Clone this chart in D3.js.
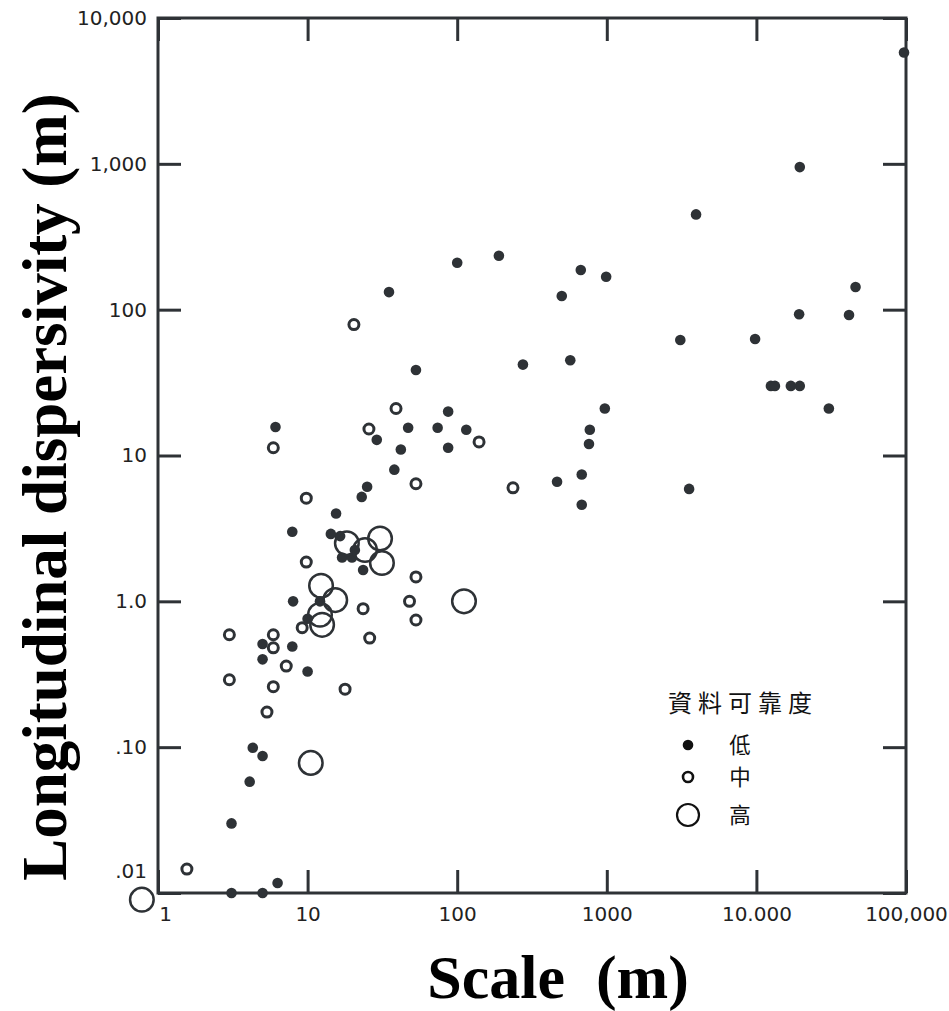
<!DOCTYPE html>
<html>
<head>
<meta charset="utf-8">
<script src="https://cdn.jsdelivr.net/npm/d3@7.9.0/dist/d3.min.js"></script>
<style>
  html, body { margin: 0; padding: 0; background: #fff; }
  svg { display: block; }
</style>
</head>
<body>
<div id="chart"></div>
<script>
// Data: [scale (m), longitudinal dispersivity (m)]
const lowReliability = [
  [97000, 5800], [19500, 950], [3950, 450], [990, 168], [46000, 143],
  [19300, 93], [41600, 92], [3100, 62], [9800, 63], [12500, 30],
  [13300, 30], [17000, 30], [19500, 30], [30500, 21], [970, 21],
  [3550, 5.9], [100, 210], [190, 234], [35, 132], [670, 187],
  [500, 124], [53, 38.6], [275, 42], [570, 45], [465, 6.6],
  [680, 7.4], [680, 4.6], [770, 15], [760, 12], [87, 20],
  [47, 15.5], [74, 15.5], [115, 15], [29, 12.8], [42, 11],
  [87, 11.3], [38, 8], [6.1, 15.7], [25, 6.1], [23, 5.2],
  [15.5, 4.0], [7.9, 3.0], [14.3, 2.9], [16.5, 2.8], [17, 2.0],
  [19.8, 2.0], [20.7, 2.25], [23.5, 1.64], [8, 1.0], [12.1, 1.0],
  [10, 0.76], [5.0, 0.51], [7.9, 0.49], [5.0, 0.40], [10, 0.33],
  [4.3, 0.099], [5.0, 0.087], [4.1, 0.058], [3.1, 0.030], [6.3, 0.0117],
  [3.1, 0.01], [5.0, 0.01]
];

const mediumReliability = [
  [20.4, 79], [39, 21], [25.7, 15.2], [140, 12.4], [5.9, 11.3],
  [53, 6.4], [236, 6.0], [9.8, 5.1], [9.8, 1.86], [53, 1.47],
  [48, 1.0], [23.5, 0.89], [53, 0.745], [9.2, 0.66], [26, 0.56],
  [3.0, 0.59], [5.9, 0.59], [5.9, 0.48], [7.2, 0.36], [3.0, 0.29],
  [5.9, 0.26], [17.8, 0.25], [5.35, 0.174], [1.56, 0.0146]
];

const highReliability = [
  [18.3, 2.5], [24.2, 2.25], [30.5, 2.7], [31.4, 1.83], [12.3, 1.28],
  [15.3, 1.02], [12.1, 0.81], [12.5, 0.69], [111, 1.0], [10.5, 0.078],
  [0.78, 0.009]
];

const xTicks = [1, 10, 100, 1000, 10000, 100000];
const xTickLabels = ["1", "10", "100", "1000", "10.000", "100,000"];
const yTicks = [0.01, 0.1, 1, 10, 100, 1000, 10000];
const yTickLabels = [".01", ".10", "1.0", "10", "100", "1,000", "10,000"];

const legendTitle = "資料可靠度";
const legendLabels = ["低", "中", "高"];

const xTitle = "Scale\u00a0 (m)";
const yTitle = "Longitudinal dispersivity (m)";

// Layout
const width = 949, height = 1011;
const plot = { left: 158, right: 906, top: 18, bottom: 893 };
const ink = "#2e3236";
const tickLen = 23;

const svg = d3.select("#chart").append("svg")
  .attr("width", width)
  .attr("height", height);

const x = d3.scaleLog().domain([1, 100000]).range([plot.left, plot.right]);
const y = d3.scaleLog().domain([0.01, 10000]).range([plot.bottom, plot.top]);

const xFmt = (d) => xTickLabels[xTicks.indexOf(d)];
const yFmt = (d) => yTickLabels[yTicks.indexOf(d)];

// Axes with inward ticks on all four sides
const gx = svg.append("g")
  .attr("transform", `translate(0,${plot.bottom})`)
  .call(d3.axisBottom(x).tickValues(xTicks).tickFormat(xFmt)
    .tickSizeInner(-tickLen).tickSizeOuter(0).tickPadding(14));

const gy = svg.append("g")
  .attr("transform", `translate(${plot.left},0)`)
  .call(d3.axisLeft(y).tickValues(yTicks).tickFormat(yFmt)
    .tickSizeInner(-tickLen).tickSizeOuter(0).tickPadding(11));

svg.append("g")
  .attr("transform", `translate(0,${plot.top})`)
  .call(d3.axisTop(x).tickValues(xTicks).tickFormat("")
    .tickSizeInner(-tickLen).tickSizeOuter(0));

svg.append("g")
  .attr("transform", `translate(${plot.right},0)`)
  .call(d3.axisRight(y).tickValues(yTicks).tickFormat("")
    .tickSizeInner(-tickLen).tickSizeOuter(0));

svg.selectAll(".domain").remove();
svg.selectAll(".tick line").attr("stroke", ink).attr("stroke-width", 3);
svg.selectAll(".tick text")
  .attr("fill", "#222")
  .style("font-family", "'DejaVu Sans', sans-serif")
  .style("font-size", "20px");

// a couple of labels sit off their ticks in the original
gx.selectAll(".tick text").filter((d) => d === 1).attr("dx", 7);
gy.selectAll(".tick text").filter((d) => d === 0.01).attr("dy", "-0.8em");

// frame
svg.append("rect")
  .attr("x", plot.left)
  .attr("y", plot.top)
  .attr("width", plot.right - plot.left)
  .attr("height", plot.bottom - plot.top)
  .attr("fill", "none")
  .attr("stroke", ink)
  .attr("stroke-width", 3);

// Points
const marks = svg.append("g");

marks.selectAll("circle.low")
  .data(lowReliability)
  .join("circle")
  .attr("class", "low")
  .attr("cx", (d) => x(d[0]))
  .attr("cy", (d) => y(d[1]))
  .attr("r", 5.3)
  .attr("fill", ink);

marks.selectAll("circle.med")
  .data(mediumReliability)
  .join("circle")
  .attr("class", "med")
  .attr("cx", (d) => x(d[0]))
  .attr("cy", (d) => y(d[1]))
  .attr("r", 5)
  .attr("fill", "none")
  .attr("stroke", ink)
  .attr("stroke-width", 3);

marks.selectAll("circle.high")
  .data(highReliability)
  .join("circle")
  .attr("class", "high")
  .attr("cx", (d) => x(d[0]))
  .attr("cy", (d) => y(d[1]))
  .attr("r", 11.8)
  .attr("fill", "none")
  .attr("stroke", ink)
  .attr("stroke-width", 2.5);

// Legend
const legend = svg.append("g").attr("transform", "translate(668,0)");

legend.append("text")
  .attr("x", 0)
  .attr("y", 712)
  .attr("fill", "#111")
  .style("font-family", "'Noto Sans CJK TC', sans-serif")
  .style("font-size", "24px")
  .style("letter-spacing", "6px")
  .text(legendTitle);

const legendRows = [
  { y: 745, r: 5.3, fill: "#111", stroke: "none", sw: 0 },
  { y: 777, r: 5, fill: "none", stroke: "#111", sw: 2.6 },
  { y: 815, r: 11, fill: "none", stroke: "#111", sw: 2.2 }
];

legendRows.forEach((row, i) => {
  legend.append("circle")
    .attr("cx", 20)
    .attr("cy", row.y)
    .attr("r", row.r)
    .attr("fill", row.fill)
    .attr("stroke", row.stroke)
    .attr("stroke-width", row.sw);
  legend.append("text")
    .attr("x", 72)
    .attr("y", row.y)
    .attr("dy", "0.36em")
    .attr("text-anchor", "middle")
    .attr("fill", "#111")
    .style("font-family", "'Noto Sans CJK TC', sans-serif")
    .style("font-size", "21.5px")
    .text(legendLabels[i]);
});

// Axis titles
svg.append("text")
  .attr("x", 558)
  .attr("y", 998)
  .attr("text-anchor", "middle")
  .attr("fill", "#000")
  .style("font-family", "'Liberation Serif', 'Times New Roman', serif")
  .style("font-weight", "bold")
  .style("font-size", "62px")
  .text(xTitle);

svg.append("text")
  .attr("transform", "translate(66,487) rotate(-90)")
  .attr("text-anchor", "middle")
  .attr("fill", "#000")
  .style("font-family", "'Liberation Serif', 'Times New Roman', serif")
  .style("font-weight", "bold")
  .style("font-size", "63px")
  .text(yTitle);
</script>
</body>
</html>
